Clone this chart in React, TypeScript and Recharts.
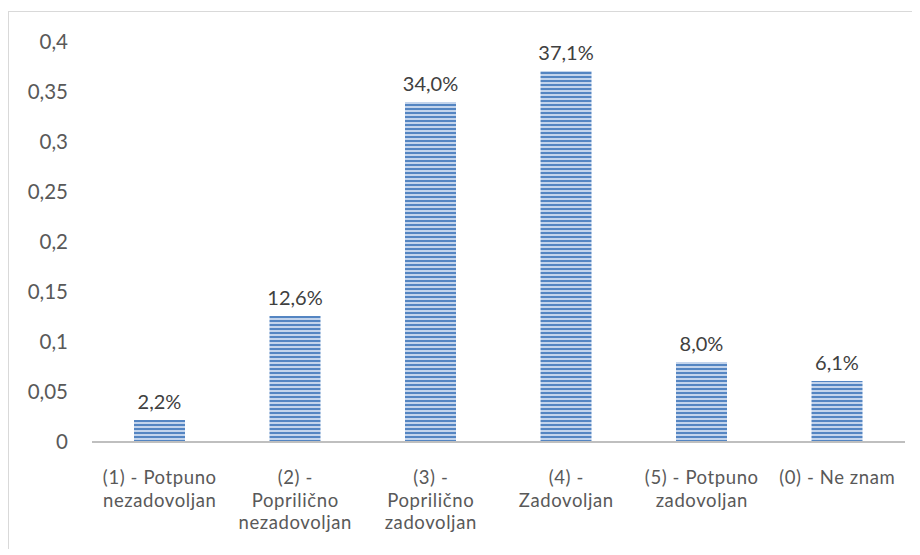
import React from "react";
import { Bar, BarChart, LabelList, XAxis, YAxis } from "recharts";

const categories = [
  "(1) - Potpuno\nnezadovoljan",
  "(2) -\nPoprilično\nnezadovoljan",
  "(3) -\nPoprilično\nzadovoljan",
  "(4) -\nZadovoljan",
  "(5) - Potpuno\nzadovoljan",
  "(0) - Ne znam",
];
const shares = [0.022, 0.126, 0.34, 0.371, 0.08, 0.061];
const yTicks = [0, 0.05, 0.1, 0.15, 0.2, 0.25, 0.3, 0.35, 0.4];

const data = categories.map((name, i) => ({ name, value: shares[i] }));

const FONT = "Lato, sans-serif";
const comma = (v: number) => String(v).replace(".", ",");
const pct = (v: number) => (v * 100).toFixed(1).replace(".", ",") + "%";

const CategoryTick = (props: any) => {
  const { x, y, payload } = props;
  const lines: string[] = String(payload.value).split("\n");
  return (
    <g transform={`translate(${x},${y})`}>
      {lines.map((line, i) => (
        <text
          key={i}
          x={0}
          y={34 + i * 22.5}
          textAnchor="middle"
          fill="#595959"
          fontSize={18.5}
          letterSpacing={0.6}
          fontFamily={FONT}
        >
          {line}
        </text>
      ))}
    </g>
  );
};

const App = () => {
  return (
    <div
      style={{
        marginTop: 3,
        width: 911,
        height: 537,
        borderTop: "1px solid #d9d9d9",
        borderLeft: "1px solid #d9d9d9",
        background: "#fff",
      }}
    >
      <BarChart
        width={911}
        height={537}
        data={data}
        margin={{ top: 30, right: 15, bottom: 7, left: 0 }}
        barCategoryGap="31%"
      >
        <defs>
          <pattern id="stripes" width="8" height="4" patternUnits="userSpaceOnUse">
            <rect width="8" height="4" fill="#c3d4ec" />
            <rect width="8" height="2" fill="#5485c2" />
          </pattern>
        </defs>
        <XAxis
          dataKey="name"
          interval={0}
          height={100}
          tickLine={false}
          axisLine={{ stroke: "#bfbfbf", strokeWidth: 2 }}
          tick={<CategoryTick />}
        />
        <YAxis
          width={83}
          domain={[0, 0.4]}
          ticks={yTicks}
          tickFormatter={comma}
          axisLine={false}
          tickLine={false}
          tickSize={0}
          tickMargin={24}
          tick={{ fill: "#595959", fontSize: 20.5, fontFamily: FONT }}
        />
        <Bar dataKey="value" fill="url(#stripes)" isAnimationActive={false}>
          <LabelList
            dataKey="value"
            position="top"
            offset={11}
            formatter={(v: any) => pct(Number(v))}
            fill="#404040"
            fontSize={20}
            fontFamily={FONT}
          />
        </Bar>
      </BarChart>
    </div>
  );
};

export default App;
